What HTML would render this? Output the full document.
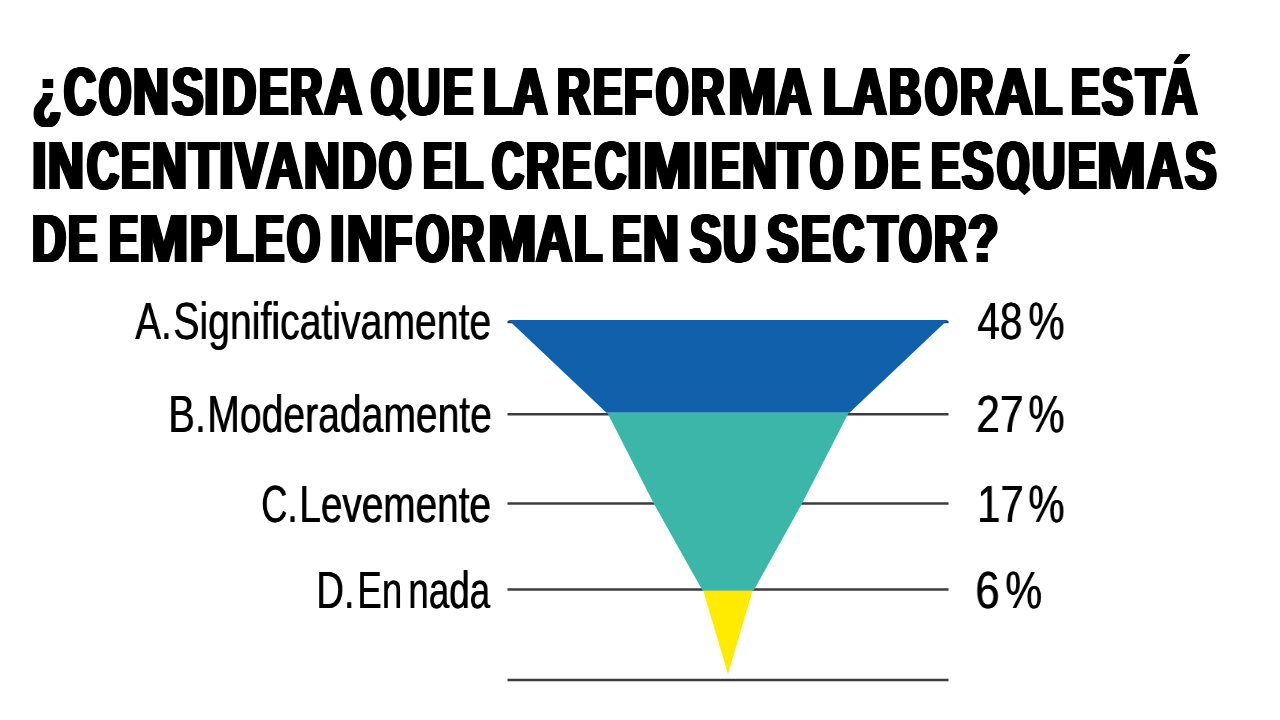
<!DOCTYPE html>
<html><head><meta charset="utf-8">
<style>
html,body{margin:0;padding:0;background:#fff;}
body{width:1280px;height:720px;overflow:hidden;position:relative;font-family:"Liberation Sans",sans-serif;color:#000;}
.t{position:absolute;white-space:nowrap;font-weight:bold;font-size:69px;line-height:69px;transform-origin:0 0;color:#000;}
.l{position:absolute;will-change:transform;white-space:nowrap;font-size:52px;line-height:52px;transform-origin:0 0;color:#000;}
svg{position:absolute;left:0;top:0;}
</style></head><body>
<div class="t" style="left:30.86px;top:56.8px;transform:scaleX(0.6600);text-shadow:0.80px 0 0 #000,1.59px 0 0 #000,2.39px 0 0 #000,3.18px 0 0 #000,3.98px 0 0 #000,4.77px 0 0 #000,5.57px 0 0 #000,6.36px 0 0 #000;">¿</div>
<div class="t" style="left:61.99px;top:56.8px;transform:scaleX(0.6367);text-shadow:0.82px 0 0 #000,1.65px 0 0 #000,2.47px 0 0 #000,3.30px 0 0 #000,4.12px 0 0 #000,4.95px 0 0 #000,5.77px 0 0 #000,6.60px 0 0 #000;">C</div>
<div class="t" style="left:97.31px;top:56.8px;transform:scaleX(0.5958);text-shadow:0.88px 0 0 #000,1.76px 0 0 #000,2.64px 0 0 #000,3.52px 0 0 #000,4.41px 0 0 #000,5.29px 0 0 #000,6.17px 0 0 #000,7.05px 0 0 #000;">O</div>
<div class="t" style="left:131.43px;top:56.8px;transform:scaleX(0.7150);text-shadow:0.73px 0 0 #000,1.47px 0 0 #000,2.20px 0 0 #000,2.94px 0 0 #000,3.67px 0 0 #000,4.41px 0 0 #000,5.14px 0 0 #000,5.87px 0 0 #000;">N</div>
<div class="t" style="left:169.64px;top:56.8px;transform:scaleX(0.6780);text-shadow:0.77px 0 0 #000,1.55px 0 0 #000,2.32px 0 0 #000,3.10px 0 0 #000,3.87px 0 0 #000,4.65px 0 0 #000,5.42px 0 0 #000,6.19px 0 0 #000;">S</div>
<div class="t" style="left:202.45px;top:56.8px;transform:scaleX(0.7500);text-shadow:0.70px 0 0 #000,1.40px 0 0 #000,2.10px 0 0 #000,2.80px 0 0 #000,3.50px 0 0 #000,4.20px 0 0 #000,4.90px 0 0 #000,5.60px 0 0 #000;">I</div>
<div class="t" style="left:219.99px;top:56.8px;transform:scaleX(0.6821);text-shadow:0.77px 0 0 #000,1.54px 0 0 #000,2.31px 0 0 #000,3.08px 0 0 #000,3.85px 0 0 #000,4.62px 0 0 #000,5.39px 0 0 #000,6.16px 0 0 #000;">D</div>
<div class="t" style="left:257.06px;top:56.8px;transform:scaleX(0.6289);text-shadow:0.83px 0 0 #000,1.67px 0 0 #000,2.50px 0 0 #000,3.34px 0 0 #000,4.17px 0 0 #000,5.01px 0 0 #000,5.84px 0 0 #000,6.68px 0 0 #000;">E</div>
<div class="t" style="left:288.17px;top:56.8px;transform:scaleX(0.6465);text-shadow:0.81px 0 0 #000,1.62px 0 0 #000,2.44px 0 0 #000,3.25px 0 0 #000,4.06px 0 0 #000,4.87px 0 0 #000,5.68px 0 0 #000,6.50px 0 0 #000;">R</div>
<div class="t" style="left:321.88px;top:56.8px;transform:scaleX(0.7587);text-shadow:0.69px 0 0 #000,1.38px 0 0 #000,2.08px 0 0 #000,2.77px 0 0 #000,3.46px 0 0 #000,4.15px 0 0 #000,4.84px 0 0 #000,5.54px 0 0 #000;">A</div>
<div class="t" style="left:369.45px;top:56.8px;transform:scaleX(0.6010);text-shadow:0.87px 0 0 #000,1.75px 0 0 #000,2.62px 0 0 #000,3.49px 0 0 #000,4.37px 0 0 #000,5.24px 0 0 #000,6.11px 0 0 #000,6.99px 0 0 #000;">O</div>
<div class="t" style="left:405.35px;top:56.8px;transform:scaleX(0.6619);text-shadow:0.79px 0 0 #000,1.59px 0 0 #000,2.38px 0 0 #000,3.17px 0 0 #000,3.97px 0 0 #000,4.76px 0 0 #000,5.55px 0 0 #000,6.35px 0 0 #000;">U</div>
<div class="t" style="left:440.65px;top:56.8px;transform:scaleX(0.6500);text-shadow:0.81px 0 0 #000,1.62px 0 0 #000,2.42px 0 0 #000,3.23px 0 0 #000,4.04px 0 0 #000,4.85px 0 0 #000,5.65px 0 0 #000,6.46px 0 0 #000;">E</div>
<div class="t" style="left:481.07px;top:56.8px;transform:scaleX(0.6857);text-shadow:0.77px 0 0 #000,1.53px 0 0 #000,2.30px 0 0 #000,3.06px 0 0 #000,3.83px 0 0 #000,4.59px 0 0 #000,5.36px 0 0 #000,6.12px 0 0 #000;">L</div>
<div class="t" style="left:509.58px;top:56.8px;transform:scaleX(0.7087);text-shadow:0.74px 0 0 #000,1.48px 0 0 #000,2.22px 0 0 #000,2.96px 0 0 #000,3.70px 0 0 #000,4.44px 0 0 #000,5.19px 0 0 #000,5.93px 0 0 #000;">A</div>
<div class="t" style="left:555.17px;top:56.8px;transform:scaleX(0.6651);text-shadow:0.79px 0 0 #000,1.58px 0 0 #000,2.37px 0 0 #000,3.16px 0 0 #000,3.95px 0 0 #000,4.74px 0 0 #000,5.53px 0 0 #000,6.31px 0 0 #000;">R</div>
<div class="t" style="left:591.26px;top:56.8px;transform:scaleX(0.6289);text-shadow:0.83px 0 0 #000,1.67px 0 0 #000,2.50px 0 0 #000,3.34px 0 0 #000,4.17px 0 0 #000,5.01px 0 0 #000,5.84px 0 0 #000,6.68px 0 0 #000;">E</div>
<div class="t" style="left:622.40px;top:56.8px;transform:scaleX(0.6600);text-shadow:0.80px 0 0 #000,1.59px 0 0 #000,2.39px 0 0 #000,3.18px 0 0 #000,3.98px 0 0 #000,4.77px 0 0 #000,5.57px 0 0 #000,6.36px 0 0 #000;">F</div>
<div class="t" style="left:653.51px;top:56.8px;transform:scaleX(0.5979);text-shadow:0.88px 0 0 #000,1.76px 0 0 #000,2.63px 0 0 #000,3.51px 0 0 #000,4.39px 0 0 #000,5.27px 0 0 #000,6.15px 0 0 #000,7.02px 0 0 #000;">O</div>
<div class="t" style="left:688.66px;top:56.8px;transform:scaleX(0.6674);text-shadow:0.79px 0 0 #000,1.57px 0 0 #000,2.36px 0 0 #000,3.15px 0 0 #000,3.93px 0 0 #000,4.72px 0 0 #000,5.51px 0 0 #000,6.29px 0 0 #000;">R</div>
<div class="t" style="left:725.60px;top:56.8px;transform:scaleX(0.8396);text-shadow:0.63px 0 0 #000,1.25px 0 0 #000,1.88px 0 0 #000,2.50px 0 0 #000,3.13px 0 0 #000,3.75px 0 0 #000,4.38px 0 0 #000,5.00px 0 0 #000;">M</div>
<div class="t" style="left:774.49px;top:56.8px;transform:scaleX(0.7065);text-shadow:0.74px 0 0 #000,1.49px 0 0 #000,2.23px 0 0 #000,2.97px 0 0 #000,3.72px 0 0 #000,4.46px 0 0 #000,5.20px 0 0 #000,5.94px 0 0 #000;">A</div>
<div class="t" style="left:820.87px;top:56.8px;transform:scaleX(0.6857);text-shadow:0.77px 0 0 #000,1.53px 0 0 #000,2.30px 0 0 #000,3.06px 0 0 #000,3.83px 0 0 #000,4.59px 0 0 #000,5.36px 0 0 #000,6.12px 0 0 #000;">L</div>
<div class="t" style="left:850.32px;top:56.8px;transform:scaleX(0.6891);text-shadow:0.76px 0 0 #000,1.52px 0 0 #000,2.29px 0 0 #000,3.05px 0 0 #000,3.81px 0 0 #000,4.57px 0 0 #000,5.33px 0 0 #000,6.09px 0 0 #000;">A</div>
<div class="t" style="left:886.59px;top:56.8px;transform:scaleX(0.6429);text-shadow:0.82px 0 0 #000,1.63px 0 0 #000,2.45px 0 0 #000,3.27px 0 0 #000,4.08px 0 0 #000,4.90px 0 0 #000,5.72px 0 0 #000,6.53px 0 0 #000;">B</div>
<div class="t" style="left:923.01px;top:56.8px;transform:scaleX(0.5979);text-shadow:0.88px 0 0 #000,1.76px 0 0 #000,2.63px 0 0 #000,3.51px 0 0 #000,4.39px 0 0 #000,5.27px 0 0 #000,6.15px 0 0 #000,7.02px 0 0 #000;">O</div>
<div class="t" style="left:958.27px;top:56.8px;transform:scaleX(0.6651);text-shadow:0.79px 0 0 #000,1.58px 0 0 #000,2.37px 0 0 #000,3.16px 0 0 #000,3.95px 0 0 #000,4.74px 0 0 #000,5.53px 0 0 #000,6.31px 0 0 #000;">R</div>
<div class="t" style="left:992.89px;top:56.8px;transform:scaleX(0.7565);text-shadow:0.69px 0 0 #000,1.39px 0 0 #000,2.08px 0 0 #000,2.78px 0 0 #000,3.47px 0 0 #000,4.16px 0 0 #000,4.86px 0 0 #000,5.55px 0 0 #000;">A</div>
<div class="t" style="left:1031.70px;top:56.8px;transform:scaleX(0.6600);text-shadow:0.80px 0 0 #000,1.59px 0 0 #000,2.39px 0 0 #000,3.18px 0 0 #000,3.98px 0 0 #000,4.77px 0 0 #000,5.57px 0 0 #000,6.36px 0 0 #000;">L</div>
<div class="t" style="left:1068.98px;top:56.8px;transform:scaleX(0.6237);text-shadow:0.84px 0 0 #000,1.68px 0 0 #000,2.53px 0 0 #000,3.37px 0 0 #000,4.21px 0 0 #000,5.05px 0 0 #000,5.89px 0 0 #000,6.73px 0 0 #000;">E</div>
<div class="t" style="left:1100.36px;top:56.8px;transform:scaleX(0.6707);text-shadow:0.78px 0 0 #000,1.57px 0 0 #000,2.35px 0 0 #000,3.13px 0 0 #000,3.91px 0 0 #000,4.70px 0 0 #000,5.48px 0 0 #000,6.26px 0 0 #000;">S</div>
<div class="t" style="left:1133.83px;top:56.8px;transform:scaleX(0.6750);text-shadow:0.78px 0 0 #000,1.56px 0 0 #000,2.33px 0 0 #000,3.11px 0 0 #000,3.89px 0 0 #000,4.67px 0 0 #000,5.44px 0 0 #000,6.22px 0 0 #000;">T</div>
<div class="t" style="left:1159.89px;top:56.8px;transform:scaleX(0.7065);text-shadow:0.74px 0 0 #000,1.49px 0 0 #000,2.23px 0 0 #000,2.97px 0 0 #000,3.72px 0 0 #000,4.46px 0 0 #000,5.20px 0 0 #000,5.94px 0 0 #000;">Á</div>
<div class="t" style="left:29.75px;top:130.8px;transform:scaleX(0.7500);text-shadow:0.70px 0 0 #000,1.40px 0 0 #000,2.10px 0 0 #000,2.80px 0 0 #000,3.50px 0 0 #000,4.20px 0 0 #000,4.90px 0 0 #000,5.60px 0 0 #000;">I</div>
<div class="t" style="left:46.32px;top:130.8px;transform:scaleX(0.7150);text-shadow:0.73px 0 0 #000,1.47px 0 0 #000,2.20px 0 0 #000,2.94px 0 0 #000,3.67px 0 0 #000,4.41px 0 0 #000,5.14px 0 0 #000,5.87px 0 0 #000;">N</div>
<div class="t" style="left:84.69px;top:130.8px;transform:scaleX(0.6356);text-shadow:0.83px 0 0 #000,1.65px 0 0 #000,2.48px 0 0 #000,3.30px 0 0 #000,4.13px 0 0 #000,4.96px 0 0 #000,5.78px 0 0 #000,6.61px 0 0 #000;">C</div>
<div class="t" style="left:119.34px;top:130.8px;transform:scaleX(0.6316);text-shadow:0.83px 0 0 #000,1.66px 0 0 #000,2.49px 0 0 #000,3.33px 0 0 #000,4.16px 0 0 #000,4.99px 0 0 #000,5.82px 0 0 #000,6.65px 0 0 #000;">E</div>
<div class="t" style="left:150.33px;top:130.8px;transform:scaleX(0.6950);text-shadow:0.76px 0 0 #000,1.51px 0 0 #000,2.27px 0 0 #000,3.02px 0 0 #000,3.78px 0 0 #000,4.53px 0 0 #000,5.29px 0 0 #000,6.04px 0 0 #000;">N</div>
<div class="t" style="left:186.71px;top:130.8px;transform:scaleX(0.6950);text-shadow:0.76px 0 0 #000,1.51px 0 0 #000,2.27px 0 0 #000,3.02px 0 0 #000,3.78px 0 0 #000,4.53px 0 0 #000,5.29px 0 0 #000,6.04px 0 0 #000;">T</div>
<div class="t" style="left:217.47px;top:130.8px;transform:scaleX(0.7550);text-shadow:0.70px 0 0 #000,1.39px 0 0 #000,2.09px 0 0 #000,2.78px 0 0 #000,3.48px 0 0 #000,4.17px 0 0 #000,4.87px 0 0 #000,5.56px 0 0 #000;">I</div>
<div class="t" style="left:233.05px;top:130.8px;transform:scaleX(0.7034);text-shadow:0.75px 0 0 #000,1.49px 0 0 #000,2.24px 0 0 #000,2.99px 0 0 #000,3.73px 0 0 #000,4.48px 0 0 #000,5.22px 0 0 #000,5.97px 0 0 #000;">V</div>
<div class="t" style="left:263.55px;top:130.8px;transform:scaleX(0.7239);text-shadow:0.73px 0 0 #000,1.45px 0 0 #000,2.18px 0 0 #000,2.90px 0 0 #000,3.63px 0 0 #000,4.35px 0 0 #000,5.08px 0 0 #000,5.80px 0 0 #000;">A</div>
<div class="t" style="left:302.03px;top:130.8px;transform:scaleX(0.7150);text-shadow:0.73px 0 0 #000,1.47px 0 0 #000,2.20px 0 0 #000,2.94px 0 0 #000,3.67px 0 0 #000,4.41px 0 0 #000,5.14px 0 0 #000,5.87px 0 0 #000;">N</div>
<div class="t" style="left:339.68px;top:130.8px;transform:scaleX(0.6833);text-shadow:0.77px 0 0 #000,1.54px 0 0 #000,2.30px 0 0 #000,3.07px 0 0 #000,3.84px 0 0 #000,4.61px 0 0 #000,5.38px 0 0 #000,6.15px 0 0 #000;">D</div>
<div class="t" style="left:377.20px;top:130.8px;transform:scaleX(0.6000);text-shadow:0.88px 0 0 #000,1.75px 0 0 #000,2.63px 0 0 #000,3.50px 0 0 #000,4.38px 0 0 #000,5.25px 0 0 #000,6.13px 0 0 #000,7.00px 0 0 #000;">O</div>
<div class="t" style="left:421.26px;top:130.8px;transform:scaleX(0.6289);text-shadow:0.83px 0 0 #000,1.67px 0 0 #000,2.50px 0 0 #000,3.34px 0 0 #000,4.17px 0 0 #000,5.01px 0 0 #000,5.84px 0 0 #000,6.68px 0 0 #000;">E</div>
<div class="t" style="left:452.18px;top:130.8px;transform:scaleX(0.6843);text-shadow:0.77px 0 0 #000,1.53px 0 0 #000,2.30px 0 0 #000,3.07px 0 0 #000,3.84px 0 0 #000,4.60px 0 0 #000,5.37px 0 0 #000,6.14px 0 0 #000;">L</div>
<div class="t" style="left:490.39px;top:130.8px;transform:scaleX(0.6378);text-shadow:0.82px 0 0 #000,1.65px 0 0 #000,2.47px 0 0 #000,3.29px 0 0 #000,4.12px 0 0 #000,4.94px 0 0 #000,5.76px 0 0 #000,6.59px 0 0 #000;">C</div>
<div class="t" style="left:524.17px;top:130.8px;transform:scaleX(0.6651);text-shadow:0.79px 0 0 #000,1.58px 0 0 #000,2.37px 0 0 #000,3.16px 0 0 #000,3.95px 0 0 #000,4.74px 0 0 #000,5.53px 0 0 #000,6.31px 0 0 #000;">R</div>
<div class="t" style="left:560.24px;top:130.8px;transform:scaleX(0.6316);text-shadow:0.83px 0 0 #000,1.66px 0 0 #000,2.49px 0 0 #000,3.32px 0 0 #000,4.16px 0 0 #000,4.99px 0 0 #000,5.82px 0 0 #000,6.65px 0 0 #000;">E</div>
<div class="t" style="left:592.85px;top:130.8px;transform:scaleX(0.6178);text-shadow:0.85px 0 0 #000,1.70px 0 0 #000,2.55px 0 0 #000,3.40px 0 0 #000,4.25px 0 0 #000,5.10px 0 0 #000,5.95px 0 0 #000,6.80px 0 0 #000;">C</div>
<div class="t" style="left:625.20px;top:130.8px;transform:scaleX(0.7600);text-shadow:0.69px 0 0 #000,1.38px 0 0 #000,2.07px 0 0 #000,2.76px 0 0 #000,3.45px 0 0 #000,4.14px 0 0 #000,4.84px 0 0 #000,5.53px 0 0 #000;">I</div>
<div class="t" style="left:641.30px;top:130.8px;transform:scaleX(0.8396);text-shadow:0.63px 0 0 #000,1.25px 0 0 #000,1.88px 0 0 #000,2.50px 0 0 #000,3.13px 0 0 #000,3.75px 0 0 #000,4.38px 0 0 #000,5.00px 0 0 #000;">M</div>
<div class="t" style="left:690.95px;top:130.8px;transform:scaleX(0.7500);text-shadow:0.70px 0 0 #000,1.40px 0 0 #000,2.10px 0 0 #000,2.80px 0 0 #000,3.50px 0 0 #000,4.20px 0 0 #000,4.90px 0 0 #000,5.60px 0 0 #000;">I</div>
<div class="t" style="left:708.76px;top:130.8px;transform:scaleX(0.6289);text-shadow:0.83px 0 0 #000,1.67px 0 0 #000,2.50px 0 0 #000,3.34px 0 0 #000,4.17px 0 0 #000,5.01px 0 0 #000,5.84px 0 0 #000,6.68px 0 0 #000;">E</div>
<div class="t" style="left:740.42px;top:130.8px;transform:scaleX(0.6950);text-shadow:0.76px 0 0 #000,1.51px 0 0 #000,2.27px 0 0 #000,3.02px 0 0 #000,3.78px 0 0 #000,4.53px 0 0 #000,5.29px 0 0 #000,6.04px 0 0 #000;">N</div>
<div class="t" style="left:776.30px;top:130.8px;transform:scaleX(0.6950);text-shadow:0.76px 0 0 #000,1.51px 0 0 #000,2.27px 0 0 #000,3.02px 0 0 #000,3.78px 0 0 #000,4.53px 0 0 #000,5.29px 0 0 #000,6.04px 0 0 #000;">T</div>
<div class="t" style="left:807.96px;top:130.8px;transform:scaleX(0.6125);text-shadow:0.86px 0 0 #000,1.71px 0 0 #000,2.57px 0 0 #000,3.43px 0 0 #000,4.29px 0 0 #000,5.14px 0 0 #000,6.00px 0 0 #000,6.86px 0 0 #000;">O</div>
<div class="t" style="left:851.80px;top:130.8px;transform:scaleX(0.6810);text-shadow:0.77px 0 0 #000,1.54px 0 0 #000,2.31px 0 0 #000,3.08px 0 0 #000,3.85px 0 0 #000,4.63px 0 0 #000,5.40px 0 0 #000,6.17px 0 0 #000;">D</div>
<div class="t" style="left:888.76px;top:130.8px;transform:scaleX(0.6289);text-shadow:0.83px 0 0 #000,1.67px 0 0 #000,2.50px 0 0 #000,3.34px 0 0 #000,4.17px 0 0 #000,5.01px 0 0 #000,5.84px 0 0 #000,6.68px 0 0 #000;">E</div>
<div class="t" style="left:928.56px;top:130.8px;transform:scaleX(0.6289);text-shadow:0.83px 0 0 #000,1.67px 0 0 #000,2.50px 0 0 #000,3.34px 0 0 #000,4.17px 0 0 #000,5.01px 0 0 #000,5.84px 0 0 #000,6.68px 0 0 #000;">E</div>
<div class="t" style="left:959.89px;top:130.8px;transform:scaleX(0.6793);text-shadow:0.77px 0 0 #000,1.55px 0 0 #000,2.32px 0 0 #000,3.09px 0 0 #000,3.86px 0 0 #000,4.64px 0 0 #000,5.41px 0 0 #000,6.18px 0 0 #000;">S</div>
<div class="t" style="left:994.60px;top:130.8px;transform:scaleX(0.6000);text-shadow:0.87px 0 0 #000,1.75px 0 0 #000,2.62px 0 0 #000,3.50px 0 0 #000,4.37px 0 0 #000,5.25px 0 0 #000,6.12px 0 0 #000,7.00px 0 0 #000;">O</div>
<div class="t" style="left:1030.44px;top:130.8px;transform:scaleX(0.6643);text-shadow:0.79px 0 0 #000,1.58px 0 0 #000,2.37px 0 0 #000,3.16px 0 0 #000,3.95px 0 0 #000,4.74px 0 0 #000,5.53px 0 0 #000,6.32px 0 0 #000;">U</div>
<div class="t" style="left:1065.95px;top:130.8px;transform:scaleX(0.6105);text-shadow:0.86px 0 0 #000,1.72px 0 0 #000,2.58px 0 0 #000,3.44px 0 0 #000,4.30px 0 0 #000,5.16px 0 0 #000,6.02px 0 0 #000,6.88px 0 0 #000;">E</div>
<div class="t" style="left:1095.28px;top:130.8px;transform:scaleX(0.8438);text-shadow:0.62px 0 0 #000,1.24px 0 0 #000,1.87px 0 0 #000,2.49px 0 0 #000,3.11px 0 0 #000,3.73px 0 0 #000,4.36px 0 0 #000,4.98px 0 0 #000;">M</div>
<div class="t" style="left:1145.27px;top:130.8px;transform:scaleX(0.7141);text-shadow:0.74px 0 0 #000,1.47px 0 0 #000,2.21px 0 0 #000,2.94px 0 0 #000,3.68px 0 0 #000,4.41px 0 0 #000,5.15px 0 0 #000,5.88px 0 0 #000;">A</div>
<div class="t" style="left:1182.84px;top:130.8px;transform:scaleX(0.6793);text-shadow:0.77px 0 0 #000,1.55px 0 0 #000,2.32px 0 0 #000,3.09px 0 0 #000,3.86px 0 0 #000,4.64px 0 0 #000,5.41px 0 0 #000,6.18px 0 0 #000;">S</div>
<div class="t" style="left:30.10px;top:204.3px;transform:scaleX(0.6810);text-shadow:0.77px 0 0 #000,1.54px 0 0 #000,2.31px 0 0 #000,3.08px 0 0 #000,3.85px 0 0 #000,4.63px 0 0 #000,5.40px 0 0 #000,6.17px 0 0 #000;">D</div>
<div class="t" style="left:66.26px;top:204.3px;transform:scaleX(0.6289);text-shadow:0.83px 0 0 #000,1.67px 0 0 #000,2.50px 0 0 #000,3.34px 0 0 #000,4.17px 0 0 #000,5.01px 0 0 #000,5.84px 0 0 #000,6.68px 0 0 #000;">E</div>
<div class="t" style="left:106.84px;top:204.3px;transform:scaleX(0.6316);text-shadow:0.83px 0 0 #000,1.66px 0 0 #000,2.49px 0 0 #000,3.33px 0 0 #000,4.16px 0 0 #000,4.99px 0 0 #000,5.82px 0 0 #000,6.65px 0 0 #000;">E</div>
<div class="t" style="left:137.02px;top:204.3px;transform:scaleX(0.8562);text-shadow:0.61px 0 0 #000,1.23px 0 0 #000,1.84px 0 0 #000,2.45px 0 0 #000,3.07px 0 0 #000,3.68px 0 0 #000,4.29px 0 0 #000,4.91px 0 0 #000;">M</div>
<div class="t" style="left:187.84px;top:204.3px;transform:scaleX(0.6923);text-shadow:0.76px 0 0 #000,1.52px 0 0 #000,2.28px 0 0 #000,3.03px 0 0 #000,3.79px 0 0 #000,4.55px 0 0 #000,5.31px 0 0 #000,6.07px 0 0 #000;">P</div>
<div class="t" style="left:223.09px;top:204.3px;transform:scaleX(0.6614);text-shadow:0.79px 0 0 #000,1.59px 0 0 #000,2.38px 0 0 #000,3.17px 0 0 #000,3.97px 0 0 #000,4.76px 0 0 #000,5.56px 0 0 #000,6.35px 0 0 #000;">L</div>
<div class="t" style="left:252.96px;top:204.3px;transform:scaleX(0.6289);text-shadow:0.83px 0 0 #000,1.67px 0 0 #000,2.50px 0 0 #000,3.34px 0 0 #000,4.17px 0 0 #000,5.01px 0 0 #000,5.84px 0 0 #000,6.68px 0 0 #000;">E</div>
<div class="t" style="left:284.76px;top:204.3px;transform:scaleX(0.6125);text-shadow:0.86px 0 0 #000,1.71px 0 0 #000,2.57px 0 0 #000,3.43px 0 0 #000,4.29px 0 0 #000,5.14px 0 0 #000,6.00px 0 0 #000,6.86px 0 0 #000;">O</div>
<div class="t" style="left:328.15px;top:204.3px;transform:scaleX(0.7500);text-shadow:0.70px 0 0 #000,1.40px 0 0 #000,2.10px 0 0 #000,2.80px 0 0 #000,3.50px 0 0 #000,4.20px 0 0 #000,4.90px 0 0 #000,5.60px 0 0 #000;">I</div>
<div class="t" style="left:344.73px;top:204.3px;transform:scaleX(0.7150);text-shadow:0.73px 0 0 #000,1.47px 0 0 #000,2.20px 0 0 #000,2.94px 0 0 #000,3.67px 0 0 #000,4.41px 0 0 #000,5.14px 0 0 #000,5.87px 0 0 #000;">N</div>
<div class="t" style="left:382.49px;top:204.3px;transform:scaleX(0.6629);text-shadow:0.79px 0 0 #000,1.58px 0 0 #000,2.38px 0 0 #000,3.17px 0 0 #000,3.96px 0 0 #000,4.75px 0 0 #000,5.54px 0 0 #000,6.34px 0 0 #000;">F</div>
<div class="t" style="left:413.66px;top:204.3px;transform:scaleX(0.6125);text-shadow:0.86px 0 0 #000,1.71px 0 0 #000,2.57px 0 0 #000,3.43px 0 0 #000,4.29px 0 0 #000,5.14px 0 0 #000,6.00px 0 0 #000,6.86px 0 0 #000;">O</div>
<div class="t" style="left:448.87px;top:204.3px;transform:scaleX(0.6651);text-shadow:0.79px 0 0 #000,1.58px 0 0 #000,2.37px 0 0 #000,3.16px 0 0 #000,3.95px 0 0 #000,4.74px 0 0 #000,5.53px 0 0 #000,6.31px 0 0 #000;">R</div>
<div class="t" style="left:485.50px;top:204.3px;transform:scaleX(0.8406);text-shadow:0.62px 0 0 #000,1.25px 0 0 #000,1.87px 0 0 #000,2.50px 0 0 #000,3.12px 0 0 #000,3.75px 0 0 #000,4.37px 0 0 #000,5.00px 0 0 #000;">M</div>
<div class="t" style="left:533.55px;top:204.3px;transform:scaleX(0.7239);text-shadow:0.73px 0 0 #000,1.45px 0 0 #000,2.18px 0 0 #000,2.90px 0 0 #000,3.63px 0 0 #000,4.35px 0 0 #000,5.08px 0 0 #000,5.80px 0 0 #000;">A</div>
<div class="t" style="left:572.29px;top:204.3px;transform:scaleX(0.6629);text-shadow:0.79px 0 0 #000,1.58px 0 0 #000,2.38px 0 0 #000,3.17px 0 0 #000,3.96px 0 0 #000,4.75px 0 0 #000,5.54px 0 0 #000,6.34px 0 0 #000;">L</div>
<div class="t" style="left:609.95px;top:204.3px;transform:scaleX(0.6303);text-shadow:0.83px 0 0 #000,1.67px 0 0 #000,2.50px 0 0 #000,3.33px 0 0 #000,4.16px 0 0 #000,5.00px 0 0 #000,5.83px 0 0 #000,6.66px 0 0 #000;">E</div>
<div class="t" style="left:640.82px;top:204.3px;transform:scaleX(0.7150);text-shadow:0.73px 0 0 #000,1.47px 0 0 #000,2.20px 0 0 #000,2.94px 0 0 #000,3.67px 0 0 #000,4.41px 0 0 #000,5.14px 0 0 #000,5.87px 0 0 #000;">N</div>
<div class="t" style="left:687.54px;top:204.3px;transform:scaleX(0.6780);text-shadow:0.77px 0 0 #000,1.55px 0 0 #000,2.32px 0 0 #000,3.10px 0 0 #000,3.87px 0 0 #000,4.65px 0 0 #000,5.42px 0 0 #000,6.19px 0 0 #000;">S</div>
<div class="t" style="left:720.65px;top:204.3px;transform:scaleX(0.6619);text-shadow:0.79px 0 0 #000,1.59px 0 0 #000,2.38px 0 0 #000,3.17px 0 0 #000,3.97px 0 0 #000,4.76px 0 0 #000,5.55px 0 0 #000,6.35px 0 0 #000;">U</div>
<div class="t" style="left:765.43px;top:204.3px;transform:scaleX(0.6829);text-shadow:0.77px 0 0 #000,1.54px 0 0 #000,2.31px 0 0 #000,3.07px 0 0 #000,3.84px 0 0 #000,4.61px 0 0 #000,5.38px 0 0 #000,6.15px 0 0 #000;">S</div>
<div class="t" style="left:798.83px;top:204.3px;transform:scaleX(0.6342);text-shadow:0.83px 0 0 #000,1.66px 0 0 #000,2.48px 0 0 #000,3.31px 0 0 #000,4.14px 0 0 #000,4.97px 0 0 #000,5.79px 0 0 #000,6.62px 0 0 #000;">E</div>
<div class="t" style="left:831.33px;top:204.3px;transform:scaleX(0.6222);text-shadow:0.84px 0 0 #000,1.69px 0 0 #000,2.53px 0 0 #000,3.38px 0 0 #000,4.22px 0 0 #000,5.06px 0 0 #000,5.91px 0 0 #000,6.75px 0 0 #000;">C</div>
<div class="t" style="left:865.70px;top:204.3px;transform:scaleX(0.7000);text-shadow:0.75px 0 0 #000,1.50px 0 0 #000,2.25px 0 0 #000,3.00px 0 0 #000,3.75px 0 0 #000,4.50px 0 0 #000,5.25px 0 0 #000,6.00px 0 0 #000;">T</div>
<div class="t" style="left:896.79px;top:204.3px;transform:scaleX(0.6042);text-shadow:0.87px 0 0 #000,1.74px 0 0 #000,2.61px 0 0 #000,3.48px 0 0 #000,4.34px 0 0 #000,5.21px 0 0 #000,6.08px 0 0 #000,6.95px 0 0 #000;">O</div>
<div class="t" style="left:931.54px;top:204.3px;transform:scaleX(0.6512);text-shadow:0.81px 0 0 #000,1.61px 0 0 #000,2.42px 0 0 #000,3.22px 0 0 #000,4.03px 0 0 #000,4.84px 0 0 #000,5.64px 0 0 #000,6.45px 0 0 #000;">R</div>
<div class="t" style="left:965.85px;top:204.3px;transform:scaleX(0.7171);text-shadow:0.73px 0 0 #000,1.46px 0 0 #000,2.20px 0 0 #000,2.93px 0 0 #000,3.66px 0 0 #000,4.39px 0 0 #000,5.12px 0 0 #000,5.86px 0 0 #000;">?</div>
<svg width="1280" height="720" viewBox="0 0 1280 720">
<g fill="none" stroke="#3c3c3c" stroke-width="2.5">
<line x1="507.5" y1="321.9" x2="948.5" y2="321.9"/>
<line x1="507.5" y1="414.3" x2="948.5" y2="414.3"/>
<line x1="507.5" y1="503.5" x2="948.5" y2="503.5"/>
<line x1="507.5" y1="589.4" x2="948.5" y2="589.4"/>
<line x1="507.5" y1="679.9" x2="948.5" y2="679.9"/>
</g>
<polygon fill="#1160ab" points="508.5,320 947.5,320 849.5,412.8 606.5,412.8"/>
<polygon fill="#3cb6a8" points="607.2,412.6 848.8,412.6 802,503.5 753.6,590.6 702.5,590.6 653.8,503.5"/>
<polygon fill="#000" points="406.8,115.8 400.7,121.1 392.2,112.6 398.3,107.3"/>
<polygon fill="#000" points="1030.8,189.4 1024.4,195.3 1015.9,186.8 1022.3,180.9"/>
<polygon fill="#ffeb00" points="703.2,590.6 752.6,590.6 728,674"/>
</svg>
<div class="l" style="left:135.30px;top:295.4px;transform:scaleX(0.7409);text-shadow:0.81px 0 0 #000;">A.</div>
<div class="l" style="left:172.94px;top:295.4px;transform:scaleX(0.7535);text-shadow:0.80px 0 0 #000;">Significativamente</div>
<div class="l" style="left:167.54px;top:388.0px;transform:scaleX(0.7650);text-shadow:0.78px 0 0 #000;">B.</div>
<div class="l" style="left:206.79px;top:388.0px;transform:scaleX(0.7516);text-shadow:0.80px 0 0 #000;">Moderadamente</div>
<div class="l" style="left:261.41px;top:477.6px;transform:scaleX(0.6977);text-shadow:0.86px 0 0 #000;">C.</div>
<div class="l" style="left:299.02px;top:477.6px;transform:scaleX(0.7450);text-shadow:0.81px 0 0 #000;">Levemente</div>
<div class="l" style="left:315.81px;top:563.6px;transform:scaleX(0.7360);text-shadow:0.82px 0 0 #000;">D.</div>
<div class="l" style="left:356.57px;top:563.6px;transform:scaleX(0.7071);text-shadow:0.85px 0 0 #000;">En</div>
<div class="l" style="left:408.28px;top:563.6px;transform:scaleX(0.7080);text-shadow:0.85px 0 0 #000;">nada</div>
<div class="l" style="left:977.02px;top:295.4px;transform:scaleX(0.7782);text-shadow:0.77px 0 0 #000;">48</div>
<div class="l" style="left:1028.23px;top:295.4px;transform:scaleX(0.7857);text-shadow:0.76px 0 0 #000;">%</div>
<div class="l" style="left:975.75px;top:388.0px;transform:scaleX(0.8154);text-shadow:0.74px 0 0 #000;">27</div>
<div class="l" style="left:1028.23px;top:388.0px;transform:scaleX(0.7857);text-shadow:0.76px 0 0 #000;">%</div>
<div class="l" style="left:976.60px;top:477.6px;transform:scaleX(0.8000);text-shadow:0.75px 0 0 #000;">17</div>
<div class="l" style="left:1028.23px;top:477.6px;transform:scaleX(0.7857);text-shadow:0.76px 0 0 #000;">%</div>
<div class="l" style="left:975.29px;top:563.6px;transform:scaleX(0.8375);text-shadow:0.72px 0 0 #000;">6</div>
<div class="l" style="left:1004.71px;top:563.6px;transform:scaleX(0.7952);text-shadow:0.75px 0 0 #000;">%</div>
</body></html>
